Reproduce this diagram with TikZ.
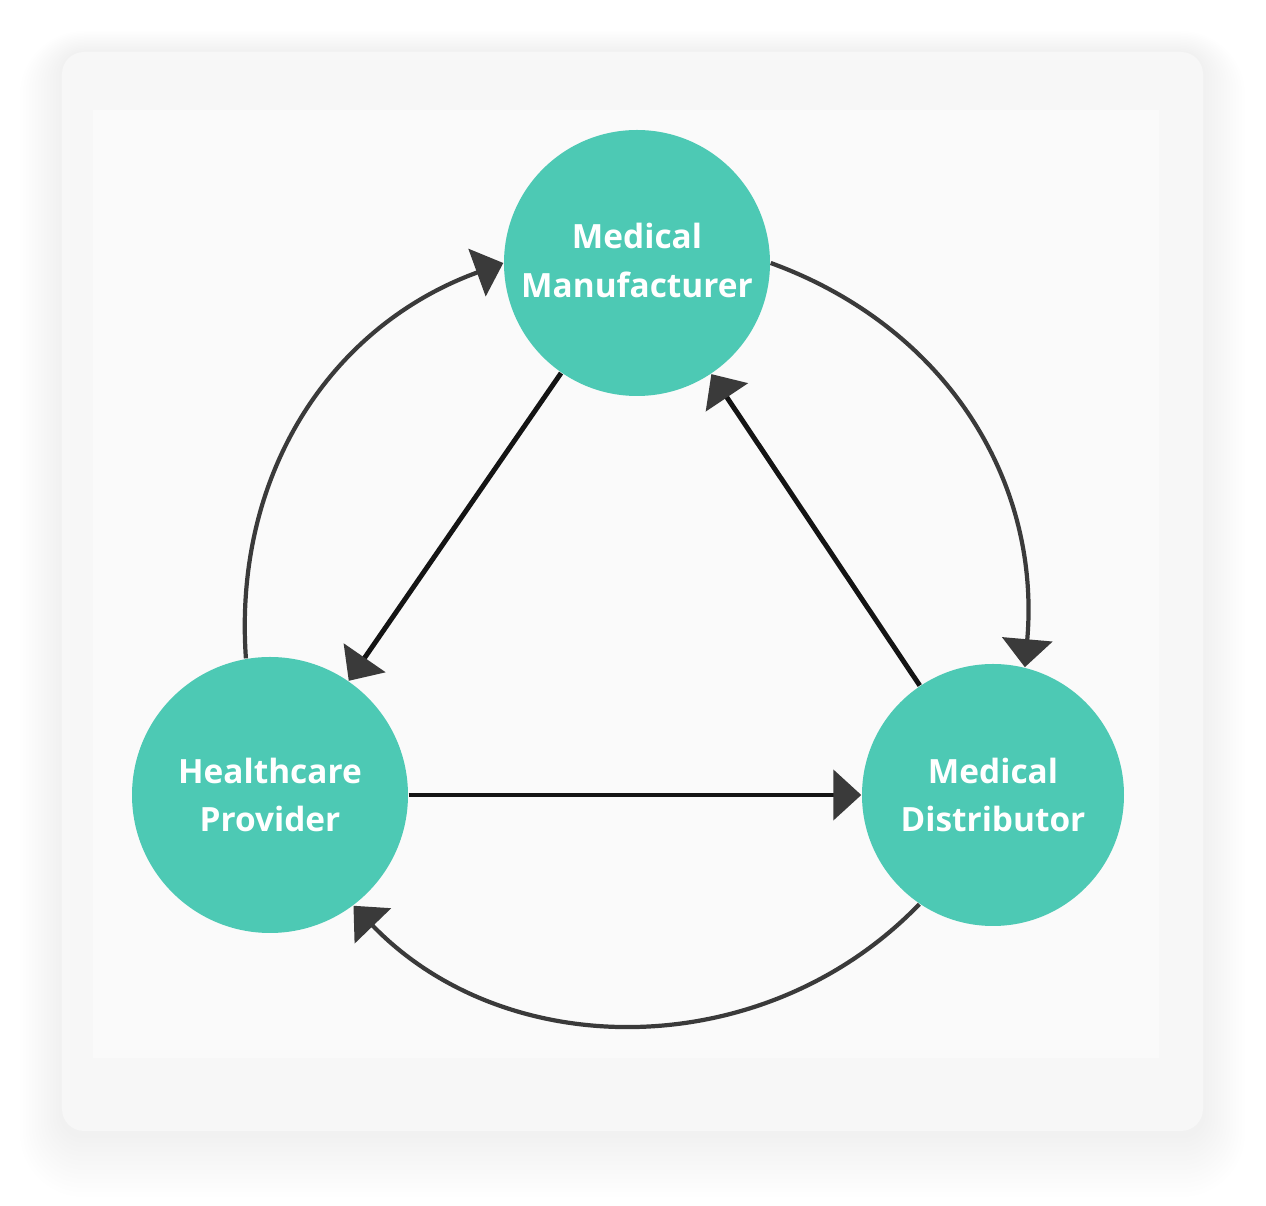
\documentclass[tikz,border=0pt]{standalone}
\usepackage{fontspec}
\setmainfont{Open Sans}
\usetikzlibrary{arrows.meta}
\definecolor{mintteal}{HTML}{4DC9B4}
\definecolor{cardgray}{HTML}{F7F7F7}
\definecolor{panelgray}{HTML}{FAFAFA}
\definecolor{arcgray}{HTML}{3A3A3A}
\definecolor{linedark}{HTML}{141414}

\begin{document}
\begin{tikzpicture}[
        party/.style={circle, fill=\maincolor, text=white, align=center,
            font=\fontsize{9.5}{13.9}\selectfont\bfseries, inner sep=0pt},
        straight/.style={line width=1.4pt, \linecolor,
            -{Triangle[length=0.28cm, width=0.5cm, color=arcgray]}},
        curved/.style={line width=1.2pt, arcgray,
            -{Triangle[length=0.28cm, width=0.5cm]}}
    ]
        \def\maincolor{mintteal}
        \def\linecolor{linedark}

        \useasboundingbox (0, 0) rectangle (12.66, 12.06);

        % soft shadow under the card
        \foreach \s in {1,...,14}
            \fill [black, opacity=0.0035, rounded corners=0.22cm+\s*0.03cm]
                (0.62-\s*0.03, 0.72-\s*0.045) rectangle (12.03+\s*0.03, 11.54+\s*0.015);

        % card and panel
        \fill [cardgray, rounded corners=0.22cm] (0.62, 0.75) rectangle (12.03, 11.54);
        \fill [panelgray] (0.93, 1.48) rectangle (11.59, 10.96);

        \node [party, minimum size=2.66cm] (man) at (6.37, 9.43) {\raisebox{0.6mm}{Medical}\\\raisebox{0.6mm}{Manufacturer}};
        \node [party, minimum size=2.76cm] (prov) at (2.70, 4.11) {Healthcare\\Provider};
        \node [party, minimum size=2.62cm] (dist) at (9.93, 4.11) {Medical\\Distributor};

        % inner triangle
        \draw [straight] (man) -- (prov);
        \draw [straight] (dist) -- (man);
        \draw [straight] (prov) -- (dist);

        % outer ring
        \draw [curved] (prov.100) to[out=94, in=200] (man.180);
        \draw [curved] (man.0) to[out=-20, in=85] (dist.76);
        \draw [curved] (dist.236) to[out=-134, in=-46] (prov.-53);
    \end{tikzpicture}
\end{document}
